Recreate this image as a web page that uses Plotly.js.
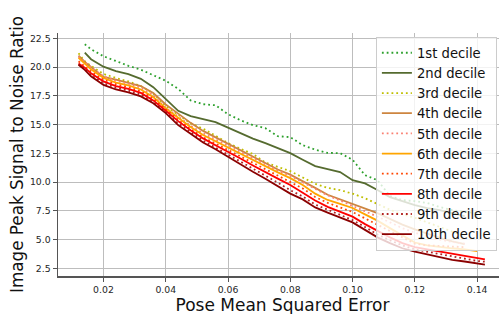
<!DOCTYPE html>
<html><head><meta charset="utf-8">
<script src="https://cdn.plot.ly/plotly-3.0.1.min.js"></script>
<style>html,body{margin:0;padding:0;overflow:hidden;background:#fff}#chart{width:510px;height:315px}</style>
</head><body><div id="chart"></div>
<script>
const poseMSE = [0.012,0.014,0.016,0.020,0.024,0.028,0.032,0.036,0.040,0.044,0.048,0.052,0.056,0.060,0.064,0.068,0.072,0.076,0.080,0.084,0.088,0.092,0.096,0.100,0.104,0.108,0.112,0.116,0.120,0.124,0.128,0.132,0.136,0.140,0.1425];
const decileNames = ["1st decile","2nd decile","3rd decile","4th decile","5th decile","6th decile","7th decile","8th decile","9th decile","10th decile"];
const d1  = [null,21.98,21.55,20.94,20.5,20.11,19.77,19.29,18.81,18.1,17.1,16.77,16.68,15.9,15.38,14.95,14.69,13.99,13.91,13.21,12.82,12.54,12.52,11.95,10.6,10.17,8.8,8.44,8.35,8.18,7.83,7.57,7.40,7.31,null];
const d2  = [null,21.25,20.68,20.03,19.64,19.38,18.98,18.25,17.2,16.2,15.73,15.47,15.21,14.73,14.25,13.78,13.39,12.95,12.52,11.95,11.39,11.13,10.87,10.17,9.89,9.31,8.70,8.35,8.0,7.74,7.57,7.31,7.05,null,null];
const d3  = [21.2,20.5,20.1,19.4,19.05,18.75,18.35,17.7,16.6,15.85,15.1,14.65,14.0,13.4,12.9,12.45,11.7,11.35,10.95,10.4,9.85,9.5,9.3,9.0,8.6,8.1,7.6,7.2,6.9,6.5,6.1,5.7,5.3,null,null];
const d4  = [21.0,20.45,20.0,19.15,18.9,18.65,18.35,17.75,16.75,15.95,15.15,14.45,13.9,13.35,12.75,12.25,11.65,11.1,10.65,10.1,9.5,8.9,8.5,8.1,7.7,7.3,6.8,6.3,5.9,5.5,5.15,4.85,4.6,null,null];
const d5  = [20.9,20.4,19.95,19.2,18.8,18.55,18.2,17.55,16.45,15.7,14.9,14.25,13.7,13.15,12.6,12.05,11.5,11.0,10.55,10.0,9.45,8.85,8.4,7.95,7.5,7.0,6.5,6.0,5.6,5.3,5.0,4.8,4.65,null,null];
const d6  = [20.8,20.3,19.8,19.05,18.65,18.4,18.05,17.4,16.4,15.6,14.8,14.1,13.55,13.0,12.45,11.9,11.35,10.85,10.35,9.75,9.0,8.45,8.1,7.75,7.2,6.65,6.0,5.35,4.75,4.5,4.35,4.25,4.15,4.0,null];
const d7  = [20.5,20.05,19.6,18.9,18.5,18.25,17.9,17.25,16.3,15.4,14.6,13.9,13.35,12.8,12.25,11.7,11.15,10.6,10.0,9.45,8.7,8.2,7.8,7.4,6.85,6.3,5.75,5.15,4.65,4.5,4.45,4.4,4.35,null,null];
const d8  = [20.3,19.95,19.45,18.75,18.35,18.1,17.75,17.1,16.2,15.3,14.5,13.8,13.2,12.65,12.05,11.45,10.85,10.3,9.75,9.1,8.4,7.85,7.45,7.0,6.35,5.75,5.2,4.7,4.35,4.15,3.95,3.75,3.6,3.4,3.28];
const d9  = [20.25,19.85,19.3,18.6,18.2,17.95,17.6,16.95,16.1,15.1,14.35,13.6,13.0,12.4,11.75,11.15,10.55,9.95,9.3,8.75,8.05,7.6,7.15,6.7,6.1,5.45,4.95,4.5,4.15,3.95,3.7,3.5,3.3,3.15,3.08];
const d10 = [20.2,19.75,19.2,18.45,18.05,17.8,17.45,16.85,16.0,14.95,14.2,13.45,12.85,12.2,11.5,10.9,10.3,9.65,9.0,8.5,7.8,7.35,6.9,6.5,5.85,5.2,4.7,4.25,3.95,3.7,3.45,3.25,3.1,2.95,2.83];
const series = [d1,d2,d3,d4,d5,d6,d7,d8,d9,d10];
const colors = ["#2ca02c","#556b2f","#bfbf00","#cd853f","#fa8072","#ffa500","#ff4500","#ff0000","#b22222","#8b0000"];
const dotted = [true,false,true,false,true,false,true,false,true,false];

const traces = series.map((ys,i)=>({
  x: poseMSE, y: ys, type:'scatter', mode:'lines', name: decileNames[i],
  connectgaps:false,
  line:{color:colors[i], width:1.8, dash: dotted[i] ? '1.8px,3px' : 'solid', shape:'linear'}
}));

const axisFont = {family:'DejaVu Sans', size:9.3, color:'#262626'};
const layout = {
  width:510, height:315,
  margin:{l:58, r:3, t:33, b:39},
  paper_bgcolor:'#fff', plot_bgcolor:'#fff',
  showlegend:true,
  legend:{x:0.708, y:0.985, xanchor:'left', yanchor:'top',
    bgcolor:'rgba(255,255,255,0.8)', bordercolor:'#cccccc', borderwidth:1,
    font:{family:'DejaVu Sans', size:13.2, color:'#111'}},
  xaxis:{range:[0.0054,0.1496], tickvals:[0.02,0.04,0.06,0.08,0.10,0.12,0.14],
    ticktext:['0.02','0.04','0.06','0.08','0.10','0.12','0.14'],
    showgrid:true, gridcolor:'#bdbdbd', gridwidth:1, zeroline:false,
    showline:true, linecolor:'#555', linewidth:1.5, ticks:'outside', ticklen:4, tickcolor:'#555', tickwidth:1,
    tickfont:axisFont,
    title:{text:'Pose Mean Squared Error', font:{family:'DejaVu Sans', size:17, color:'#111'}, standoff:6}},
  yaxis:{range:[1.84,22.96], tickvals:[2.5,5,7.5,10,12.5,15,17.5,20,22.5],
    ticktext:['2.5','5.0','7.5','10.0','12.5','15.0','17.5','20.0','22.5'],
    showgrid:true, gridcolor:'#bdbdbd', gridwidth:1, zeroline:false,
    showline:true, linecolor:'#555', linewidth:1.5, ticks:'outside', ticklen:4, tickcolor:'#555', tickwidth:1,
    tickfont:axisFont,
    title:{text:'Image Peak Signal to Noise Ratio', font:{family:'DejaVu Sans', size:16.8, color:'#111'}, standoff:2}}
};
Plotly.newPlot('chart', traces, layout, {displayModeBar:false, staticPlot:true});
</script></body></html>
